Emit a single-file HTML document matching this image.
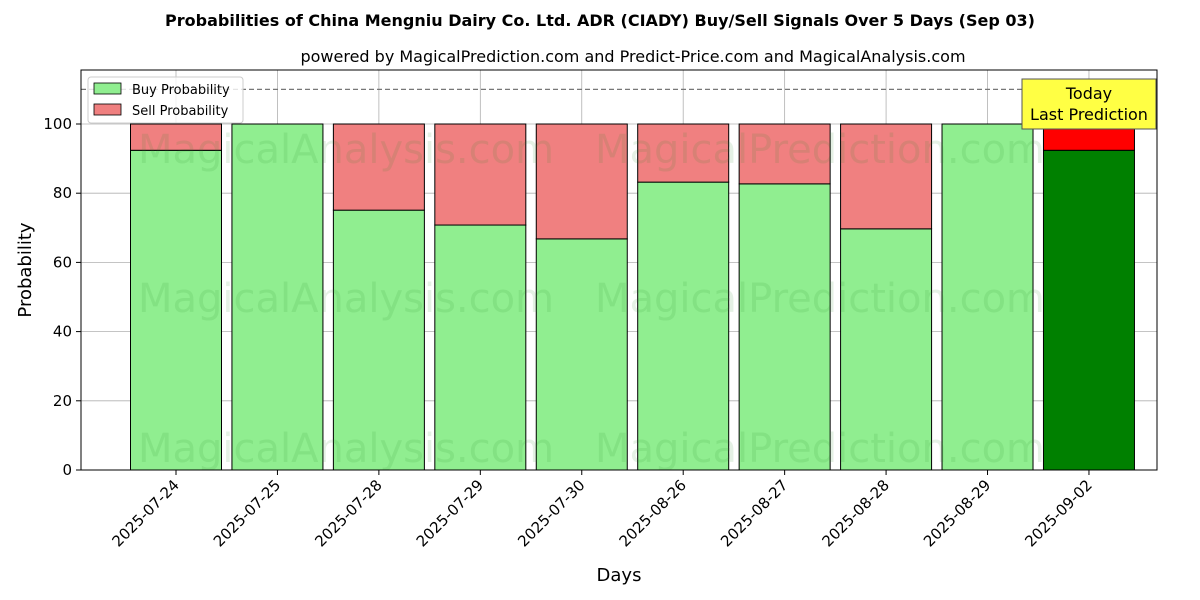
<!DOCTYPE html>
<html><head><meta charset="utf-8"><style>body{margin:0;background:#fff}svg{display:block;font-family:"DejaVu Sans","Liberation Sans",sans-serif}</style></head>
<body>
<svg id="chart" width="1200" height="600" viewBox="0 0 1200 600" xmlns="http://www.w3.org/2000/svg">
<rect width="1200" height="600" fill="#fff"/>
<text x="600" y="26" text-anchor="middle" font-size="16" font-weight="bold">Probabilities of China Mengniu Dairy Co. Ltd. ADR (CIADY) Buy/Sell Signals Over 5 Days (Sep 03)</text>
<text x="633" y="62" text-anchor="middle" font-size="16">powered by MagicalPrediction.com and Predict-Price.com and MagicalAnalysis.com</text>
<g id="grid"></g>
<g id="bars"></g>
<g id="wm" font-size="40" fill="#2a8a2a" fill-opacity="0.12">
<text x="346" y="163" text-anchor="middle">MagicalAnalysis.com</text>
<text x="820" y="163" text-anchor="middle">MagicalPrediction.com</text>
<text x="346" y="312" text-anchor="middle">MagicalAnalysis.com</text>
<text x="820" y="312" text-anchor="middle">MagicalPrediction.com</text>
<text x="346" y="462" text-anchor="middle">MagicalAnalysis.com</text>
<text x="820" y="462" text-anchor="middle">MagicalPrediction.com</text>
</g>
<line id="thr" x1="81" x2="1157" stroke="#777" stroke-width="1.2" stroke-dasharray="5,3"/>
<rect x="81" y="70" width="1076" height="400" fill="none" stroke="#000" stroke-width="1"/>
<g id="axes" font-size="15"></g>
<text x="619" y="581" text-anchor="middle" font-size="18">Days</text>
<text transform="translate(31,270) rotate(-90)" text-anchor="middle" font-size="18">Probability</text>
<g>
<rect x="88" y="77" width="155" height="46" fill="#fff" fill-opacity="0.8" stroke="#ccc" rx="3"/>
<rect x="94" y="83" width="27" height="11" fill="#90ee90" stroke="#000" stroke-width="0.8"/>
<text x="132" y="94" font-size="13">Buy Probability</text>
<rect x="94" y="104" width="27" height="11" fill="#f08080" stroke="#000" stroke-width="0.8"/>
<text x="132" y="115" font-size="13">Sell Probability</text>
</g>
<g>
<rect x="1022" y="79" width="134" height="50" fill="#ffff44" stroke="#555"/>
<text x="1089" y="99" text-anchor="middle" font-size="16">Today</text>
<text x="1089" y="120" text-anchor="middle" font-size="16">Last Prediction</text>
</g>
</svg>
<script>
const categories=["2025-07-24","2025-07-25","2025-07-28","2025-07-29","2025-07-30","2025-08-26","2025-08-27","2025-08-28","2025-08-29","2025-09-02"];
const buyValues=[92.4,100,75.1,70.8,66.8,83.2,82.7,69.7,100,92.4];
const sellValues=[7.6,0,24.9,29.2,33.2,16.8,17.3,30.3,0,7.6];
const yTicks=[0,20,40,60,80,100];
const threshold=110;
const NS="http://www.w3.org/2000/svg";
const y=v=>470-v*3.46;
const x=i=>176+i*101.44;
const bw=91;
function mk(t,a,p){const e=document.createElementNS(NS,t);for(const k in a)e.setAttribute(k,a[k]);p.appendChild(e);return e;}
const grid=document.getElementById('grid'),bars=document.getElementById('bars'),axes=document.getElementById('axes');
document.getElementById('thr').setAttribute('y1',y(threshold));document.getElementById('thr').setAttribute('y2',y(threshold));
yTicks.forEach(t=>{
 const g=mk('line',{x1:81,x2:1157,y1:y(t),y2:y(t),stroke:'#b0b0b0','stroke-width':0.8},grid);
 
 const tk=mk('line',{x1:76,x2:81,y1:y(t),y2:y(t),stroke:'#000'},axes);
 
 const tx=mk('text',{x:72,y:y(t)+5,'text-anchor':'end'},axes);tx.textContent=t;
 
});
categories.forEach((c,i)=>{
 const g=mk('line',{x1:x(i),x2:x(i),y1:70,y2:470,stroke:'#b0b0b0','stroke-width':0.8},grid);
 
 const last=i===categories.length-1;
 const b=mk('rect',{x:x(i)-bw/2,y:y(buyValues[i]),width:bw,height:y(0)-y(buyValues[i]),fill:last?'#008000':'#90ee90',stroke:'#000','stroke-width':1},bars);
 
 const s=mk('rect',{x:x(i)-bw/2,y:y(buyValues[i]+sellValues[i]),width:bw,height:y(buyValues[i])-y(buyValues[i]+sellValues[i]),fill:last?'#ff0000':'#f08080',stroke:'#000','stroke-width':1},bars);
 
 const tk=mk('line',{x1:x(i),x2:x(i),y1:470,y2:475,stroke:'#000'},axes);
 
 const tx=mk('text',{x:x(i)+4,y:486,'text-anchor':'end',transform:`rotate(-45 ${x(i)+4} 486)`},axes);tx.textContent=c;
 
});
</script>
</body></html>
